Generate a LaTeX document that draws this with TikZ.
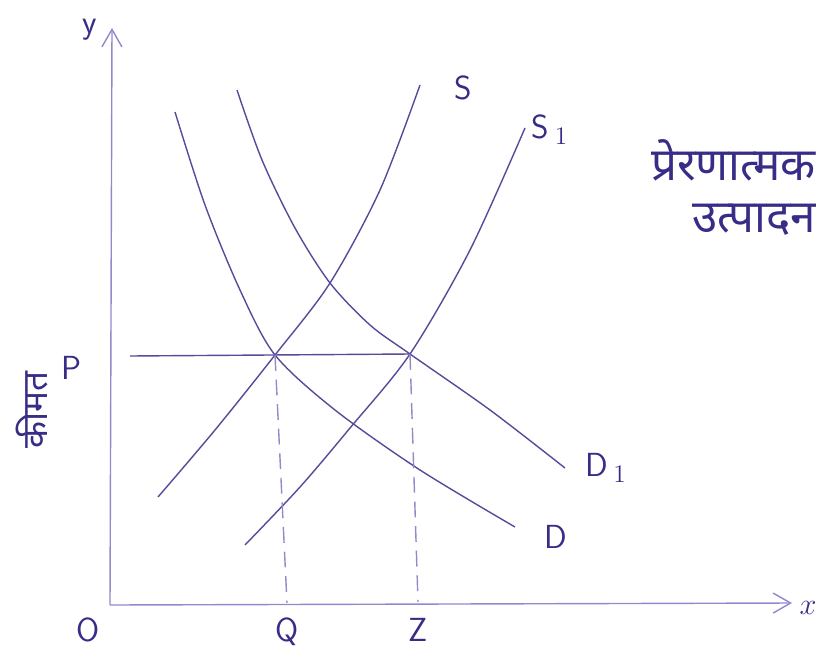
\documentclass[tikz,border=0pt]{standalone}
\usepackage{fontspec}
\newfontfamily\devfont[Script=Devanagari]{Noto Sans}
\usetikzlibrary{arrows.meta}
\definecolor{ink}{RGB}{55,45,135}
\definecolor{pale}{RGB}{150,135,205}
\tikzset{
  axis/.style={thick, draw=pale, -{Straight Barb[length=3.5mm, width=4mm]}},
  curve/.style={thick, draw=ink!85},
  guide/.style={thick, draw=pale, dash pattern=on 9pt off 5pt},
  lbl/.style={text=ink, font=\fontsize{19}{22}\selectfont\sffamily},
  devlbl/.style={text=ink, font=\devfont\fontsize{26}{30}\selectfont},
}

\begin{document}
\begin{tikzpicture}[x=0.02cm, y=-0.02cm]
  \useasboundingbox (0,0) rectangle (827,652);
  % axes
  \coordinate (O) at (110,605);
  \coordinate (ytip) at (112,28);
  \coordinate (xtip) at (792,603);
  \draw[axis] (O) -- (ytip);
  \draw[axis] (O) -- (xtip);
  \node[lbl] (ylab) at (90,30) {y};
  \node[lbl] (xlab) at (808,608) {$x$};
  \node[lbl] (olab) at (88,630) {O};
  % equilibrium points
  \coordinate (E) at (275,355);
  \coordinate (E1) at (410,354);
  % supply curves
  \draw[curve] plot[smooth] coordinates {(158,497) (215,430) (275,355) (330,283) (380,190) (420,85)};
  \draw[curve] plot[smooth] coordinates {(245,545) (300,487) (350,428) (410,354) (470,250) (525,128)};
  \node[lbl] (slab) at (463,88) {S};
  \node[lbl] (s1lab) at (550,130) {S\,$_{1}$};
  % demand curves
  \draw[curve] plot[smooth] coordinates {(175,112) (205,205) (240,290) (275,355) (335,410) (420,470) (515,527)};
  \draw[curve] plot[smooth] coordinates {(237,90) (262,160) (295,228) (330,283) (370,325) (410,354) (490,410) (565,468)};
  \node[lbl] (dlab) at (556,537) {D};
  \node[lbl] (d1lab) at (606,468) {D\,$_{1}$};
  % price line and guides
  \node[lbl] (plab) at (72,368) {P};
  \coordinate (pstart) at (130,356);
  \draw[curve] (pstart) -- (E1);
  \coordinate (Qfoot) at (287,603);
  \coordinate (Zfoot) at (418,602);
  \draw[guide] (E) -- (Qfoot);
  \draw[guide] (E1) -- (Zfoot);
  \node[lbl] (qlab) at (287,632) {Q};
  \node[lbl] (zlab) at (418,630) {Z};
  % hindi labels
  \node[devlbl, rotate=90, font=\devfont\fontsize{20}{24}\selectfont] (price) at (32,410) {कीमत};
  \node[devlbl, anchor=east] (prer) at (822,160) {प्रेरणात्मक};
  \node[devlbl, anchor=east] (utp) at (822,220) {उत्पादन};
\end{tikzpicture}
\end{document}
